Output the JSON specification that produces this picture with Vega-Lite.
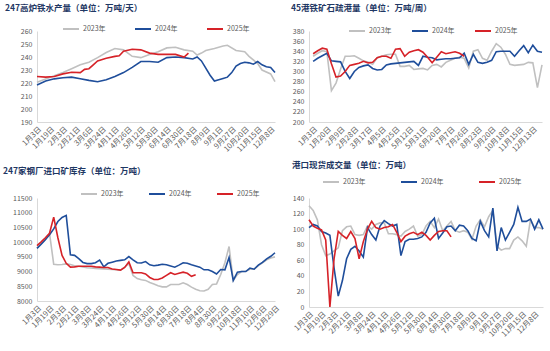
{
"$schema": "https://vega.github.io/schema/vega-lite/v6.json",
"padding": {"left": 3, "top": 3, "right": 2, "bottom": 2},
"background": "white",
"datasets": {
"p1": [
{"w":0,"s":"2023年","v":220.5},{"w":2,"s":"2023年","v":223},{"w":4,"s":"2023年","v":225.5},{"w":6,"s":"2023年","v":228},{"w":8,"s":"2023年","v":231},{"w":10,"s":"2023年","v":234},{"w":12,"s":"2023年","v":236},{"w":14,"s":"2023年","v":239.5},{"w":16,"s":"2023年","v":243.5},{"w":18,"s":"2023年","v":246.5},{"w":20,"s":"2023年","v":245.5},{"w":22,"s":"2023年","v":240.5},{"w":24,"s":"2023年","v":239.5},{"w":26,"s":"2023年","v":242},{"w":28,"s":"2023年","v":244},{"w":30,"s":"2023年","v":247},{"w":32,"s":"2023年","v":247.5},{"w":34,"s":"2023年","v":245.5},{"w":36,"s":"2023年","v":244.5},{"w":37,"s":"2023年","v":241.5},{"w":38,"s":"2023年","v":243},{"w":39,"s":"2023年","v":245},{"w":41,"s":"2023年","v":246.5},{"w":43,"s":"2023年","v":248.5},{"w":44,"s":"2023年","v":249},{"w":46,"s":"2023年","v":245},{"w":48,"s":"2023年","v":244},{"w":49,"s":"2023年","v":240.5},{"w":51,"s":"2023年","v":235},{"w":52,"s":"2023年","v":230},{"w":54,"s":"2023年","v":227},{"w":55,"s":"2023年","v":221},
{"w":0,"s":"2024年","v":218.5},{"w":2,"s":"2024年","v":221.5},{"w":4,"s":"2024年","v":223.2},{"w":6,"s":"2024年","v":224},{"w":8,"s":"2024年","v":224.5},{"w":10,"s":"2024年","v":223.3},{"w":12,"s":"2024年","v":222},{"w":14,"s":"2024年","v":221},{"w":16,"s":"2024年","v":222.5},{"w":18,"s":"2024年","v":225},{"w":20,"s":"2024年","v":228},{"w":22,"s":"2024年","v":232},{"w":24,"s":"2024年","v":236.5},{"w":26,"s":"2024年","v":236.5},{"w":28,"s":"2024年","v":236},{"w":30,"s":"2024年","v":239.5},{"w":32,"s":"2024年","v":240},{"w":34,"s":"2024年","v":239.5},{"w":36,"s":"2024年","v":238.5},{"w":37,"s":"2024年","v":240},{"w":38,"s":"2024年","v":237},{"w":40,"s":"2024年","v":226},{"w":41,"s":"2024年","v":221.5},{"w":42,"s":"2024年","v":222.5},{"w":43,"s":"2024年","v":223.5},{"w":44,"s":"2024年","v":224.5},{"w":45,"s":"2024年","v":228},{"w":46,"s":"2024年","v":233},{"w":47,"s":"2024年","v":235},{"w":48,"s":"2024年","v":236},{"w":49,"s":"2024年","v":235.5},{"w":50,"s":"2024年","v":234.5},{"w":51,"s":"2024年","v":236.5},{"w":52,"s":"2024年","v":234},{"w":53,"s":"2024年","v":232.5},{"w":54,"s":"2024年","v":232},{"w":55,"s":"2024年","v":228},
{"w":0,"s":"2025年","v":225},{"w":2,"s":"2025年","v":224.5},{"w":4,"s":"2025年","v":225},{"w":6,"s":"2025年","v":227},{"w":8,"s":"2025年","v":228.3},{"w":10,"s":"2025年","v":228},{"w":11,"s":"2025年","v":230.5},{"w":12,"s":"2025年","v":231},{"w":13,"s":"2025年","v":234},{"w":14,"s":"2025年","v":237},{"w":16,"s":"2025年","v":239},{"w":18,"s":"2025年","v":240.5},{"w":19,"s":"2025年","v":241},{"w":20,"s":"2025年","v":244.5},{"w":22,"s":"2025年","v":246},{"w":24,"s":"2025年","v":245.5},{"w":26,"s":"2025年","v":243},{"w":28,"s":"2025年","v":242},{"w":30,"s":"2025年","v":242},{"w":32,"s":"2025年","v":242},{"w":34,"s":"2025年","v":240},{"w":35,"s":"2025年","v":243}
],
"p2": [
{"w":0,"s":"2023年","v":330},{"w":1,"s":"2023年","v":336},{"w":2,"s":"2023年","v":341},{"w":3,"s":"2023年","v":339},{"w":4,"s":"2023年","v":262},{"w":5,"s":"2023年","v":277},{"w":6,"s":"2023年","v":305},{"w":7,"s":"2023年","v":330},{"w":8,"s":"2023年","v":330},{"w":9,"s":"2023年","v":331},{"w":10,"s":"2023年","v":326},{"w":11,"s":"2023年","v":321},{"w":12,"s":"2023年","v":318},{"w":13,"s":"2023年","v":314},{"w":14,"s":"2023年","v":327},{"w":15,"s":"2023年","v":330},{"w":16,"s":"2023年","v":333},{"w":17,"s":"2023年","v":334},{"w":18,"s":"2023年","v":334},{"w":19,"s":"2023年","v":310},{"w":20,"s":"2023年","v":310},{"w":21,"s":"2023年","v":312},{"w":22,"s":"2023年","v":304},{"w":23,"s":"2023年","v":305},{"w":24,"s":"2023年","v":306},{"w":25,"s":"2023年","v":303},{"w":26,"s":"2023年","v":312},{"w":27,"s":"2023年","v":314},{"w":28,"s":"2023年","v":309},{"w":29,"s":"2023年","v":318},{"w":30,"s":"2023年","v":322},{"w":31,"s":"2023年","v":326},{"w":32,"s":"2023年","v":328},{"w":33,"s":"2023年","v":326},{"w":34,"s":"2023年","v":307},{"w":35,"s":"2023年","v":340},{"w":36,"s":"2023年","v":343},{"w":37,"s":"2023年","v":326},{"w":38,"s":"2023年","v":322},{"w":39,"s":"2023年","v":340},{"w":40,"s":"2023年","v":355},{"w":41,"s":"2023年","v":348},{"w":42,"s":"2023年","v":334},{"w":43,"s":"2023年","v":314},{"w":44,"s":"2023年","v":312},{"w":45,"s":"2023年","v":313},{"w":46,"s":"2023年","v":314},{"w":47,"s":"2023年","v":318},{"w":48,"s":"2023年","v":317},{"w":49,"s":"2023年","v":268},{"w":50,"s":"2023年","v":313},
{"w":0,"s":"2024年","v":320},{"w":1,"s":"2024年","v":326},{"w":2,"s":"2024年","v":331},{"w":3,"s":"2024年","v":336},{"w":4,"s":"2024年","v":321},{"w":5,"s":"2024年","v":320},{"w":6,"s":"2024年","v":319},{"w":7,"s":"2024年","v":300},{"w":8,"s":"2024年","v":286},{"w":9,"s":"2024年","v":300},{"w":10,"s":"2024年","v":308},{"w":11,"s":"2024年","v":311},{"w":12,"s":"2024年","v":313},{"w":13,"s":"2024年","v":306},{"w":14,"s":"2024年","v":303},{"w":15,"s":"2024年","v":304},{"w":16,"s":"2024年","v":313},{"w":17,"s":"2024年","v":315},{"w":18,"s":"2024年","v":316},{"w":19,"s":"2024年","v":317},{"w":20,"s":"2024年","v":318},{"w":21,"s":"2024年","v":319},{"w":22,"s":"2024年","v":320},{"w":23,"s":"2024年","v":312},{"w":24,"s":"2024年","v":330},{"w":25,"s":"2024年","v":328},{"w":26,"s":"2024年","v":327},{"w":27,"s":"2024年","v":323},{"w":28,"s":"2024年","v":324},{"w":29,"s":"2024年","v":325},{"w":30,"s":"2024年","v":325},{"w":31,"s":"2024年","v":326},{"w":32,"s":"2024年","v":327},{"w":33,"s":"2024年","v":336},{"w":34,"s":"2024年","v":314},{"w":35,"s":"2024年","v":334},{"w":36,"s":"2024年","v":318},{"w":37,"s":"2024年","v":316},{"w":38,"s":"2024年","v":318},{"w":39,"s":"2024年","v":322},{"w":40,"s":"2024年","v":339},{"w":41,"s":"2024年","v":340},{"w":42,"s":"2024年","v":340},{"w":43,"s":"2024年","v":340},{"w":44,"s":"2024年","v":330},{"w":45,"s":"2024年","v":341},{"w":46,"s":"2024年","v":351},{"w":47,"s":"2024年","v":337},{"w":48,"s":"2024年","v":352},{"w":49,"s":"2024年","v":340},{"w":50,"s":"2024年","v":338},
{"w":0,"s":"2025年","v":335},{"w":1,"s":"2025年","v":341},{"w":2,"s":"2025年","v":346},{"w":3,"s":"2025年","v":344},{"w":4,"s":"2025年","v":315},{"w":5,"s":"2025年","v":289},{"w":6,"s":"2025年","v":291},{"w":7,"s":"2025年","v":300},{"w":8,"s":"2025年","v":312},{"w":9,"s":"2025年","v":314},{"w":10,"s":"2025年","v":316},{"w":11,"s":"2025年","v":320},{"w":12,"s":"2025年","v":317},{"w":13,"s":"2025年","v":318},{"w":14,"s":"2025年","v":327},{"w":15,"s":"2025年","v":330},{"w":16,"s":"2025年","v":330},{"w":17,"s":"2025年","v":326},{"w":18,"s":"2025年","v":344},{"w":19,"s":"2025年","v":345},{"w":20,"s":"2025年","v":330},{"w":21,"s":"2025年","v":338},{"w":22,"s":"2025年","v":341},{"w":23,"s":"2025年","v":343},{"w":24,"s":"2025年","v":338},{"w":25,"s":"2025年","v":328},{"w":26,"s":"2025年","v":317},{"w":27,"s":"2025年","v":328},{"w":28,"s":"2025年","v":339},{"w":29,"s":"2025年","v":335},{"w":30,"s":"2025年","v":337},{"w":31,"s":"2025年","v":339},{"w":32,"s":"2025年","v":336},{"w":33,"s":"2025年","v":330}
],
"p3": [
{"w":0,"s":"2023年","v":9800},{"w":1,"s":"2023年","v":9950},{"w":2,"s":"2023年","v":10100},{"w":3,"s":"2023年","v":10300},{"w":4,"s":"2023年","v":9250},{"w":5,"s":"2023年","v":9230},{"w":6,"s":"2023年","v":9240},{"w":7,"s":"2023年","v":9260},{"w":8,"s":"2023年","v":9240},{"w":9,"s":"2023年","v":9200},{"w":10,"s":"2023年","v":9180},{"w":11,"s":"2023年","v":9160},{"w":12,"s":"2023年","v":9130},{"w":13,"s":"2023年","v":9120},{"w":14,"s":"2023年","v":9110},{"w":15,"s":"2023年","v":9100},{"w":16,"s":"2023年","v":9090},{"w":17,"s":"2023年","v":9080},{"w":18,"s":"2023年","v":9070},{"w":19,"s":"2023年","v":9060},{"w":20,"s":"2023年","v":9050},{"w":21,"s":"2023年","v":9150},{"w":22,"s":"2023年","v":9270},{"w":23,"s":"2023年","v":8870},{"w":24,"s":"2023年","v":8760},{"w":25,"s":"2023年","v":8720},{"w":26,"s":"2023年","v":8700},{"w":27,"s":"2023年","v":8630},{"w":28,"s":"2023年","v":8580},{"w":29,"s":"2023年","v":8520},{"w":30,"s":"2023年","v":8480},{"w":31,"s":"2023年","v":8480},{"w":32,"s":"2023年","v":8560},{"w":33,"s":"2023年","v":8560},{"w":34,"s":"2023年","v":8560},{"w":35,"s":"2023年","v":8620},{"w":36,"s":"2023年","v":8560},{"w":37,"s":"2023年","v":8470},{"w":38,"s":"2023年","v":8400},{"w":39,"s":"2023年","v":8350},{"w":40,"s":"2023年","v":8340},{"w":41,"s":"2023年","v":8400},{"w":42,"s":"2023年","v":8560},{"w":43,"s":"2023年","v":8580},{"w":44,"s":"2023年","v":8900},{"w":45,"s":"2023年","v":9300},{"w":46,"s":"2023年","v":9850},{"w":47,"s":"2023年","v":8700},{"w":48,"s":"2023年","v":8900},{"w":49,"s":"2023年","v":9000},{"w":50,"s":"2023年","v":9010},{"w":51,"s":"2023年","v":9080},{"w":52,"s":"2023年","v":9080},{"w":53,"s":"2023年","v":9200},{"w":54,"s":"2023年","v":9300},{"w":55,"s":"2023年","v":9400},{"w":56,"s":"2023年","v":9460},{"w":57,"s":"2023年","v":9500},
{"w":0,"s":"2024年","v":9790},{"w":1,"s":"2024年","v":9930},{"w":2,"s":"2024年","v":10080},{"w":3,"s":"2024年","v":10250},{"w":4,"s":"2024年","v":10450},{"w":5,"s":"2024年","v":10700},{"w":6,"s":"2024年","v":10840},{"w":7,"s":"2024年","v":10910},{"w":8,"s":"2024年","v":9570},{"w":9,"s":"2024年","v":9550},{"w":10,"s":"2024年","v":9440},{"w":11,"s":"2024年","v":9310},{"w":12,"s":"2024年","v":9270},{"w":13,"s":"2024年","v":9270},{"w":14,"s":"2024年","v":9300},{"w":15,"s":"2024年","v":9390},{"w":16,"s":"2024年","v":9160},{"w":17,"s":"2024年","v":9280},{"w":18,"s":"2024年","v":9320},{"w":19,"s":"2024年","v":9360},{"w":20,"s":"2024年","v":9380},{"w":21,"s":"2024年","v":9400},{"w":22,"s":"2024年","v":9510},{"w":23,"s":"2024年","v":9400},{"w":24,"s":"2024年","v":9300},{"w":25,"s":"2024年","v":9290},{"w":26,"s":"2024年","v":9340},{"w":27,"s":"2024年","v":9230},{"w":28,"s":"2024年","v":9200},{"w":29,"s":"2024年","v":9220},{"w":30,"s":"2024年","v":9250},{"w":31,"s":"2024年","v":9230},{"w":32,"s":"2024年","v":9190},{"w":33,"s":"2024年","v":9150},{"w":34,"s":"2024年","v":9220},{"w":35,"s":"2024年","v":9300},{"w":36,"s":"2024年","v":9280},{"w":37,"s":"2024年","v":9230},{"w":38,"s":"2024年","v":9190},{"w":39,"s":"2024年","v":9150},{"w":40,"s":"2024年","v":9060},{"w":41,"s":"2024年","v":9060},{"w":42,"s":"2024年","v":9000},{"w":43,"s":"2024年","v":8920},{"w":44,"s":"2024年","v":9070},{"w":45,"s":"2024年","v":9060},{"w":46,"s":"2024年","v":9480},{"w":47,"s":"2024年","v":8700},{"w":48,"s":"2024年","v":8980},{"w":49,"s":"2024年","v":9000},{"w":50,"s":"2024年","v":9000},{"w":51,"s":"2024年","v":9120},{"w":52,"s":"2024年","v":9080},{"w":53,"s":"2024年","v":9220},{"w":54,"s":"2024年","v":9310},{"w":55,"s":"2024年","v":9430},{"w":56,"s":"2024年","v":9520},{"w":57,"s":"2024年","v":9640},
{"w":0,"s":"2025年","v":9880},{"w":1,"s":"2025年","v":10010},{"w":2,"s":"2025年","v":10150},{"w":3,"s":"2025年","v":10300},{"w":4,"s":"2025年","v":10850},{"w":5,"s":"2025年","v":10150},{"w":6,"s":"2025年","v":9550},{"w":7,"s":"2025年","v":9280},{"w":8,"s":"2025年","v":9150},{"w":9,"s":"2025年","v":9160},{"w":10,"s":"2025年","v":9180},{"w":11,"s":"2025年","v":9180},{"w":12,"s":"2025年","v":9180},{"w":13,"s":"2025年","v":9180},{"w":14,"s":"2025年","v":9160},{"w":15,"s":"2025年","v":9150},{"w":16,"s":"2025年","v":9140},{"w":17,"s":"2025年","v":9140},{"w":18,"s":"2025年","v":9090},{"w":19,"s":"2025年","v":9070},{"w":20,"s":"2025年","v":9050},{"w":21,"s":"2025年","v":9140},{"w":22,"s":"2025年","v":9330},{"w":23,"s":"2025年","v":8960},{"w":24,"s":"2025年","v":8960},{"w":25,"s":"2025年","v":8960},{"w":26,"s":"2025年","v":8920},{"w":27,"s":"2025年","v":8800},{"w":28,"s":"2025年","v":8730},{"w":29,"s":"2025年","v":8730},{"w":30,"s":"2025年","v":8780},{"w":31,"s":"2025年","v":8870},{"w":32,"s":"2025年","v":8960},{"w":33,"s":"2025年","v":8900},{"w":34,"s":"2025年","v":8940},{"w":35,"s":"2025年","v":8980},{"w":36,"s":"2025年","v":8940},{"w":37,"s":"2025年","v":8840},{"w":38,"s":"2025年","v":8890}
],
"p4": [
{"w":0,"s":"2023年","v":130},{"w":1,"s":"2023年","v":124},{"w":2,"s":"2023年","v":112},{"w":3,"s":"2023年","v":80},{"w":4,"s":"2023年","v":66},{"w":5,"s":"2023年","v":68},{"w":6,"s":"2023年","v":72},{"w":7,"s":"2023年","v":76},{"w":8,"s":"2023年","v":98},{"w":9,"s":"2023年","v":103},{"w":10,"s":"2023年","v":104},{"w":11,"s":"2023年","v":93},{"w":12,"s":"2023年","v":92},{"w":13,"s":"2023年","v":93},{"w":14,"s":"2023年","v":104},{"w":15,"s":"2023年","v":100},{"w":16,"s":"2023年","v":106},{"w":17,"s":"2023年","v":108},{"w":18,"s":"2023年","v":108},{"w":19,"s":"2023年","v":94},{"w":20,"s":"2023年","v":94},{"w":21,"s":"2023年","v":93},{"w":22,"s":"2023年","v":91},{"w":23,"s":"2023年","v":97},{"w":24,"s":"2023年","v":100},{"w":25,"s":"2023年","v":104},{"w":26,"s":"2023年","v":91},{"w":27,"s":"2023年","v":93},{"w":28,"s":"2023年","v":104},{"w":29,"s":"2023年","v":110},{"w":30,"s":"2023年","v":102},{"w":31,"s":"2023年","v":113},{"w":32,"s":"2023年","v":98},{"w":33,"s":"2023年","v":104},{"w":34,"s":"2023年","v":110},{"w":35,"s":"2023年","v":98},{"w":36,"s":"2023年","v":96},{"w":37,"s":"2023年","v":98},{"w":38,"s":"2023年","v":96},{"w":39,"s":"2023年","v":87},{"w":40,"s":"2023年","v":104},{"w":41,"s":"2023年","v":112},{"w":42,"s":"2023年","v":103},{"w":43,"s":"2023年","v":116},{"w":44,"s":"2023年","v":124},{"w":45,"s":"2023年","v":78},{"w":46,"s":"2023年","v":73},{"w":47,"s":"2023年","v":75},{"w":48,"s":"2023年","v":75},{"w":49,"s":"2023年","v":86},{"w":50,"s":"2023年","v":90},{"w":51,"s":"2023年","v":85},{"w":52,"s":"2023年","v":78},{"w":53,"s":"2023年","v":112},{"w":54,"s":"2023年","v":102},{"w":55,"s":"2023年","v":102},{"w":56,"s":"2023年","v":100},
{"w":0,"s":"2024年","v":102},{"w":1,"s":"2024年","v":106},{"w":2,"s":"2024年","v":104},{"w":3,"s":"2024年","v":97},{"w":4,"s":"2024年","v":95},{"w":5,"s":"2024年","v":92},{"w":6,"s":"2024年","v":50},{"w":7,"s":"2024年","v":14},{"w":8,"s":"2024年","v":34},{"w":9,"s":"2024年","v":62},{"w":10,"s":"2024年","v":74},{"w":11,"s":"2024年","v":78},{"w":12,"s":"2024年","v":72},{"w":13,"s":"2024年","v":64},{"w":14,"s":"2024年","v":102},{"w":15,"s":"2024年","v":93},{"w":16,"s":"2024年","v":86},{"w":17,"s":"2024年","v":104},{"w":18,"s":"2024年","v":111},{"w":19,"s":"2024年","v":107},{"w":20,"s":"2024年","v":104},{"w":21,"s":"2024年","v":106},{"w":22,"s":"2024年","v":66},{"w":23,"s":"2024年","v":84},{"w":24,"s":"2024年","v":87},{"w":25,"s":"2024年","v":87},{"w":26,"s":"2024年","v":88},{"w":27,"s":"2024年","v":90},{"w":28,"s":"2024年","v":96},{"w":29,"s":"2024年","v":108},{"w":30,"s":"2024年","v":114},{"w":31,"s":"2024年","v":88},{"w":32,"s":"2024年","v":95},{"w":33,"s":"2024年","v":103},{"w":34,"s":"2024年","v":104},{"w":35,"s":"2024年","v":98},{"w":36,"s":"2024年","v":105},{"w":37,"s":"2024年","v":104},{"w":38,"s":"2024年","v":98},{"w":39,"s":"2024年","v":88},{"w":40,"s":"2024年","v":85},{"w":41,"s":"2024年","v":110},{"w":42,"s":"2024年","v":98},{"w":43,"s":"2024年","v":90},{"w":44,"s":"2024年","v":127},{"w":45,"s":"2024年","v":72},{"w":46,"s":"2024年","v":102},{"w":47,"s":"2024年","v":86},{"w":48,"s":"2024年","v":96},{"w":49,"s":"2024年","v":106},{"w":50,"s":"2024年","v":128},{"w":51,"s":"2024年","v":110},{"w":52,"s":"2024年","v":110},{"w":53,"s":"2024年","v":113},{"w":54,"s":"2024年","v":100},{"w":55,"s":"2024年","v":112},{"w":56,"s":"2024年","v":100},
{"w":0,"s":"2025年","v":112},{"w":1,"s":"2025年","v":104},{"w":2,"s":"2025年","v":101},{"w":3,"s":"2025年","v":99},{"w":4,"s":"2025年","v":86},{"w":5,"s":"2025年","v":0},{"w":6,"s":"2025年","v":62},{"w":7,"s":"2025年","v":97},{"w":8,"s":"2025年","v":92},{"w":9,"s":"2025年","v":88},{"w":10,"s":"2025年","v":97},{"w":11,"s":"2025年","v":88},{"w":12,"s":"2025年","v":62},{"w":13,"s":"2025年","v":84},{"w":14,"s":"2025年","v":100},{"w":15,"s":"2025年","v":110},{"w":16,"s":"2025年","v":102},{"w":17,"s":"2025年","v":100},{"w":18,"s":"2025年","v":102},{"w":19,"s":"2025年","v":103},{"w":20,"s":"2025年","v":106},{"w":21,"s":"2025年","v":96},{"w":22,"s":"2025年","v":84},{"w":23,"s":"2025年","v":91},{"w":24,"s":"2025年","v":94},{"w":25,"s":"2025年","v":96},{"w":26,"s":"2025年","v":93},{"w":27,"s":"2025年","v":96},{"w":28,"s":"2025年","v":92},{"w":29,"s":"2025年","v":86},{"w":30,"s":"2025年","v":92},{"w":31,"s":"2025年","v":97},{"w":32,"s":"2025年","v":98},{"w":33,"s":"2025年","v":98},{"w":34,"s":"2025年","v":90}
]
},
"spacing": 167,
"bounds": "flush",
"resolve": {"scale": {"color": "independent"}, "legend": {"color": "independent"}},
"vconcat": [
{
"hconcat": [
{
"width": 238, "height": 91,
"title": {"text": "247高炉铁水产量（单位：万吨/天）", "dx": -32, "offset": 8},
"data": {"name": "p1"},
"mark": {"type": "line", "strokeWidth": 1.6},
"encoding": {
"x": {"field": "w", "type": "quantitative", "scale": {"domain": [0, 55], "nice": false, "zero": false},
 "axis": {"values": [0,3,6,9,12,15,18,21,24,27,30,33,36,39,42,45,48,51,54], "labelExpr": "['1月3日','1月19日','2月3日','2月21日','3月6日','3月24日','4月11日','4月26日','5月12日','5月30日','6月14日','6月30日','7月18日','8月9日','9月1日','9月27日','10月20日','11月15日','12月8日'][round(datum.value/3)]"}},
"y": {"field": "v", "type": "quantitative", "scale": {"domain": [190, 260], "nice": false, "zero": false}, "axis": {"values": [190,200,210,220,230,240,250,260], "format": "d"}},
"color": {"field": "s", "type": "nominal", "scale": {"domain": ["2023年","2024年","2025年"], "range": ["#c0c0c0","#1f4e9b","#d62228"]}, "legend": {"title": null, "legendX": 25, "legendY": -11, "columnPadding": 25}}
}
},
{
"width": 233, "height": 91,
"title": {"text": "45港铁矿石疏港量（单位：万吨/周）", "dx": -18, "offset": 10},
"data": {"name": "p2"},
"mark": {"type": "line", "strokeWidth": 1.6},
"encoding": {
"x": {"field": "w", "type": "quantitative", "scale": {"domain": [-0.9, 50], "nice": false, "zero": false},
 "axis": {"values": [0,3,6,9,12,15,18,21,24,27,30,33,36,39,42,45,48], "labelExpr": "['1月3日','1月20日','2月9日','2月28日','3月17日','4月5日','4月25日','5月12日','5月31日','6月20日','7月7日','7月26日','8月23日','9月20日','10月18日','11月15日','12月13日'][round(datum.value/3)]"}},
"y": {"field": "v", "type": "quantitative", "scale": {"domain": [200, 380], "nice": false, "zero": false}, "axis": {"values": [200,220,240,260,280,300,320,340,360,380], "format": "d"}},
"color": {"field": "s", "type": "nominal", "scale": {"domain": ["2023年","2024年","2025年"], "range": ["#c0c0c0","#1f4e9b","#d62228"]}, "legend": {"title": null, "legendX": 39, "legendY": -9, "columnPadding": 16}}
}
}
],
"spacing": 34, "bounds": "flush",
"resolve": {"scale": {"color": "independent"}, "legend": {"color": "independent"}}
},
{
"hconcat": [
{
"width": 238, "height": 103,
"title": {"text": "247家钢厂进口矿库存（单位：万吨）", "dx": -34, "dy": -3, "offset": 7},
"data": {"name": "p3"},
"mark": {"type": "line", "strokeWidth": 1.6},
"encoding": {
"x": {"field": "w", "type": "quantitative", "scale": {"domain": [0, 57], "nice": false, "zero": false},
 "axis": {"values": [0,3,6,9,12,15,18,21,24,27,30,33,36,39,42,45,48,51,54,57], "labelExpr": "['1月3日','1月19日','2月3日','2月21日','3月8日','3月24日','4月11日','4月26日','5月12日','5月30日','6月14日','6月30日','7月18日','8月4日','8月30日','9月22日','10月18日','11月10日','12月6日','12月29日'][round(datum.value/3)]"}},
"y": {"field": "v", "type": "quantitative", "scale": {"domain": [8000, 11500], "nice": false, "zero": false}, "axis": {"values": [8000,8500,9000,9500,10000,10500,11000,11500], "format": "d"}},
"color": {"field": "s", "type": "nominal", "scale": {"domain": ["2023年","2024年","2025年"], "range": ["#c0c0c0","#1f4e9b","#d62228"]}, "legend": {"title": null, "legendX": 43, "legendY": -13, "columnPadding": 21}}
}
},
{
"width": 234, "height": 109,
"title": {"text": "港口现货成交量（单位：万吨）", "dx": -17, "offset": 4},
"data": {"name": "p4"},
"mark": {"type": "line", "strokeWidth": 1.6},
"encoding": {
"x": {"field": "w", "type": "quantitative", "scale": {"domain": [0, 56], "nice": false, "zero": false},
 "axis": {"values": [0,3,6,9,12,15,18,21,24,27,30,33,36,39,42,45,48,51,54], "labelExpr": "['1月3日','1月19日','2月3日','2月21日','3月8日','3月24日','4月11日','4月26日','5月12日','5月30日','6月14日','6月30日','7月18日','8月9日','9月1日','9月27日','10月20日','11月15日','12月8日'][round(datum.value/3)]"}},
"y": {"field": "v", "type": "quantitative", "scale": {"domain": [0, 140], "nice": false, "zero": false}, "axis": {"values": [0,20,40,60,80,100,120,140], "format": "d"}},
"color": {"field": "s", "type": "nominal", "scale": {"domain": ["2023年","2024年","2025年"], "range": ["#c0c0c0","#1f4e9b","#d62228"]}, "legend": {"title": null, "legendX": 13, "legendY": -25, "columnPadding": 31}}
}
}
],
"spacing": 34, "bounds": "flush",
"resolve": {"scale": {"color": "independent"}, "legend": {"color": "independent"}}
}
],
"config": {
"view": {"stroke": null},
"font": "Noto Sans CJK SC",
"title": {"anchor": "start", "frame": "group", "fontSize": 8.5, "fontWeight": "bold", "color": "#1f3864", "font": "Noto Sans CJK SC"},
"axis": {"grid": false, "ticks": false, "domainColor": "#d9d9d9", "domainWidth": 1, "labelColor": "#595959", "labelFontSize": 7, "labelFont": "Noto Sans CJK SC", "title": null, "labelPadding": 3},
"axisX": {"labelAngle": -45, "labelOverlap": false, "labelFontSize": 7.5, "labelBound": false, "labelFlush": false},
"axisY": {"labelPadding": 5},
"legend": {"orient": "none", "direction": "horizontal", "symbolType": "stroke", "symbolSize": 256, "symbolStrokeWidth": 2, "labelFontSize": 7, "labelColor": "#595959", "labelOffset": 3, "labelFont": "Noto Sans CJK SC", "padding": 0}
}
}
